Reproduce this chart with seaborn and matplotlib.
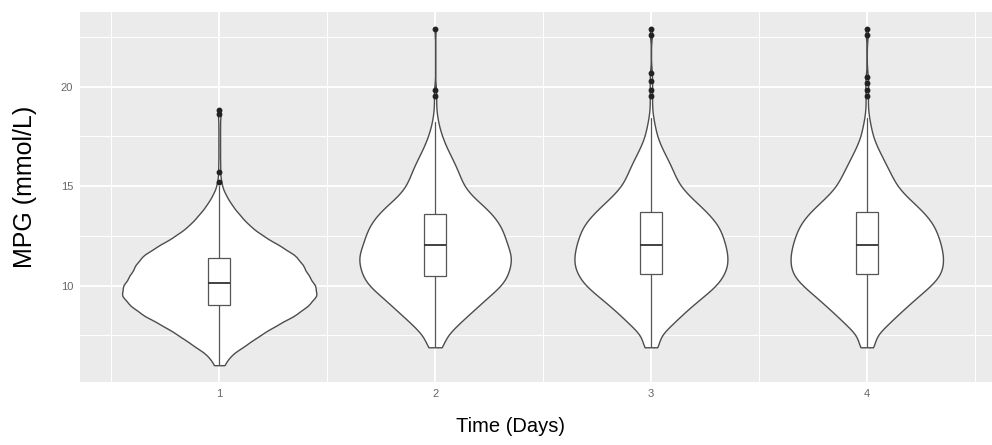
import numpy as np
import pandas as pd
import matplotlib
matplotlib.use("Agg")
import matplotlib.pyplot as plt
import seaborn as sns

days = ["1", "2", "3", "4"]

day1_values = [6.0, 6.5, 7.0, 7.5, 8.0, 8.5, 9.0, 9.5, 10.0, 10.5, 11.0, 11.5,
               12.0, 12.5, 13.0, 13.5, 14.0, 14.5, 15.0, 15.2, 15.7, 16.2,
               16.8, 17.4, 18.0, 18.6, 18.8]
day1_counts = [5, 11, 26, 40, 56, 75, 88, 97, 95, 88, 83, 76,
               60, 43, 30, 21, 13, 7, 2, 1, 1, 1,
               1, 1, 1, 1, 1]

day2_values = [6.9, 7.0, 7.5, 8.0, 8.5, 9.0, 9.5, 10.0, 10.5, 11.0, 11.5, 12.0,
               12.5, 13.0, 13.5, 14.0, 14.5, 15.0, 15.5, 16.0, 16.5, 17.0,
               17.5, 18.0, 18.5, 19.0, 19.5, 19.85, 22.9]
day2_counts = [4, 5, 12, 22, 33, 44, 55, 67, 73, 76, 77, 73,
               70, 66, 59, 49, 37, 29, 25, 21, 16, 11,
               7, 4, 2, 1, 1, 1, 1]

day3_values = [6.9, 7.0, 7.5, 8.0, 8.5, 9.0, 9.5, 10.0, 10.5, 11.0, 11.5, 12.0,
               12.5, 13.0, 13.5, 14.0, 14.5, 15.0, 15.5, 16.0, 16.5, 17.0,
               17.5, 18.0, 18.5, 19.0, 19.5, 19.85, 20.3, 20.7, 22.6, 22.9]
day3_counts = [4, 5, 9, 20, 30, 41, 53, 65, 72, 76, 76, 74,
               71, 67, 59, 49, 38, 29, 24, 20, 15, 10,
               6, 4, 2, 1, 1, 1, 1, 1, 1, 1]

day4_values = [6.9, 7.0, 7.5, 8.0, 8.5, 9.0, 9.5, 10.0, 10.5, 11.0, 11.5, 12.0,
               12.5, 13.0, 13.5, 14.0, 14.5, 15.0, 15.5, 16.0, 16.5, 17.0,
               17.5, 18.0, 18.5, 19.0, 19.5, 19.85, 20.2, 20.5, 22.6, 22.9]
day4_counts = [4, 5, 9, 20, 30, 41, 52, 64, 73, 76, 76, 74,
               71, 67, 60, 50, 39, 30, 25, 20, 15, 10,
               6, 4, 2, 1, 1, 1, 1, 1, 1, 1]

# Estadísticos del boxplot
q1s = [9.0, 10.5, 10.57, 10.57]
medians = [10.12, 12.06, 12.06, 12.06]
q3s = [11.39, 13.6, 13.72, 13.72]
whisker_low = [6.0, 6.9, 6.9, 6.9]
whisker_high = [15.0, 18.2, 18.4, 18.4]
fliers = [
    [15.2, 15.7, 18.6, 18.8],
    [19.5, 19.85, 22.9],
    [19.5, 19.85, 20.3, 20.7, 22.6, 22.9],
    [19.5, 19.85, 20.2, 20.5, 22.6, 22.9],
]

y_major = [10, 15, 20]
y_minor = [7.5, 12.5, 17.5, 22.5]

# ---------------------------------------------------------------
frames = []
for day, vals, cnts in zip(days,
                           [day1_values, day2_values, day3_values, day4_values],
                           [day1_counts, day2_counts, day3_counts, day4_counts]):
    frames.append(pd.DataFrame({"day": day, "mpg": np.repeat(vals, cnts)}))
df = pd.concat(frames, ignore_index=True)

sns.set_theme(style="darkgrid")
plt.rcParams["font.family"] = ["Liberation Sans", "DejaVu Sans"]

fig = plt.figure(figsize=(9.92, 4.45), dpi=100)
ax = fig.add_axes([80 / 992, 63 / 445, 926 / 992, 370 / 445])
ax.set_facecolor("#EBEBEB")

sns.violinplot(data=df, x="day", y="mpg", order=days, color="white",
               saturation=1, linecolor="#4d4d4d", linewidth=1.0, inner=None,
               cut=0, bw_method=0.15, width=0.9, density_norm="area", ax=ax)

stats = []
for i in range(len(days)):
    stats.append({"med": medians[i], "q1": q1s[i], "q3": q3s[i],
                  "whislo": whisker_low[i], "whishi": whisker_high[i],
                  "fliers": fliers[i]})
ax.bxp(stats, positions=range(len(days)), widths=0.1, showcaps=False,
       patch_artist=True,
       boxprops=dict(facecolor="white", edgecolor="#555555", linewidth=0.9),
       whiskerprops=dict(color="#555555", linewidth=0.9),
       medianprops=dict(color="#333333", linewidth=1.3),
       flierprops=dict(marker="o", markersize=3.2, markerfacecolor="#222222",
                       markeredgecolor="#222222"))

ax.set_xlim(-0.645, 3.645)
ax.set_ylim(5.155, 23.745)
ax.set_xticks(range(len(days)))
ax.set_xticklabels(days)
ax.set_yticks(y_major)
ax.set_yticklabels([str(v) for v in y_major])
ax.set_yticks(y_minor, minor=True)
ax.set_xticks([-0.5, 0.5, 1.5, 2.5, 3.5], minor=True)

ax.set_axisbelow(True)
ax.grid(which="major", color="white", linewidth=1.3)
ax.grid(which="minor", color="white", linewidth=0.7)
for s in ax.spines.values():
    s.set_visible(False)
ax.tick_params(which="major", length=3, width=0.8, color="#333333",
               labelcolor="#666666", labelsize=8, pad=2)
ax.tick_params(which="minor", length=0)

ax.set_xlabel("Time (Days)", fontsize=14.5, color="black", va="center")
ax.xaxis.set_label_coords((510 - 80) / 926, (382 - 427) / 370)
ax.set_ylabel("MPG (mmol/L)", fontsize=18, color="black", va="center")
ax.yaxis.set_label_coords((25 - 80) / 926, (382 - 187) / 370)

fig.savefig("out.png", dpi=100)
